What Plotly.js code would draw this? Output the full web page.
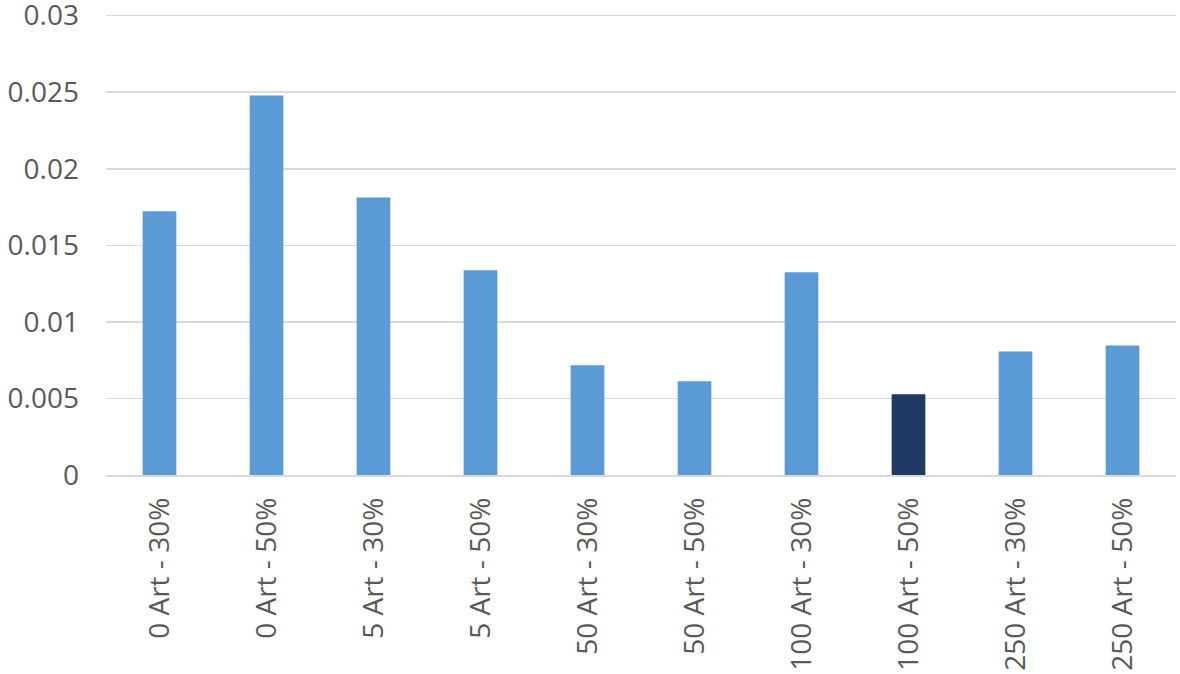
<html>
<head>
<script src="https://cdn.plot.ly/plotly-3.0.1.min.js"></script>
<style>body{margin:0;background:#fff;}</style>
</head>
<body>
<div id="chart" style="width:1180px;height:674px;"></div>
<script>
// categories and values
var categories = ["0 Art - 30%", "0 Art - 50%", "5 Art - 30%", "5 Art - 50%", "50 Art - 30%",
                  "50 Art - 50%", "100 Art - 30%", "100 Art - 50%", "250 Art - 30%", "250 Art - 50%"];
var values = [0.01722, 0.02478, 0.01813, 0.01337, 0.00717, 0.00613, 0.01324, 0.00527, 0.00806, 0.00845];
var highlight = "100 Art - 50%";
var yTicks = [0, 0.005, 0.01, 0.015, 0.02, 0.025, 0.03];
var yTickText = ["0", "0.005", "0.01", "0.015", "0.02", "0.025", "0.03"];

var colors = categories.map(function (c) {
    return c === highlight ? "#203864" : "#5B9BD5";
});

var trace = {
    type: "bar", x: categories, y: values,
    marker: {color: colors, line: {width: 0}},
    hoverinfo: "x+y"
};

// range goes a little past 0.03 so the top gridline and label are drawn
var layout = {
    width: 1180, height: 674,
    margin: {l: 106, r: 4, t: 8, b: 199},
    paper_bgcolor: "#ffffff", plot_bgcolor: "#ffffff",
    bargap: 0.685,
    showlegend: false,
    font: {family: "Open Sans, Noto Sans, sans-serif", color: "#595959", size: 28},
    xaxis: {
        tickangle: -90, showgrid: false, showline: true, linecolor: "#d9d9d9", linewidth: 1.5,
        ticks: "", tickfont: {size: 28, color: "#595959"}, ticklabelstandoff: 10
    },
    yaxis: {
        range: [0, 0.0305], tickvals: yTicks, ticktext: yTickText,
        showgrid: true, gridcolor: "#d9d9d9", gridwidth: 1.5, zeroline: false,
        showline: false, ticks: "", tickfont: {size: 28, color: "#595959"}, ticklabelstandoff: 26,
        ticklabeloverflow: "allow"
    }
};

Plotly.newPlot("chart", [trace], layout, {staticPlot: true});
</script>
</body>
</html>
